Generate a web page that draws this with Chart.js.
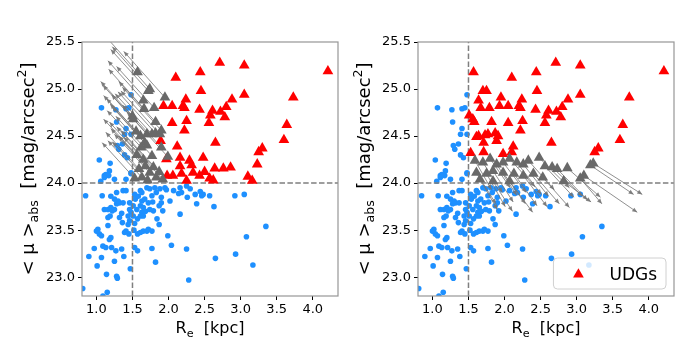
<!DOCTYPE html>
<html><head><meta charset="utf-8">
<script src="https://cdn.jsdelivr.net/npm/chart.js@4.4.1/dist/chart.umd.min.js"></script>
<style>
html,body{margin:0;padding:0;background:#fff;width:700px;height:350px;overflow:hidden;}
canvas{position:absolute;top:0;}
#c1{left:0}
#c2{left:336px}
</style></head><body>
<canvas id="c1" width="350" height="350"></canvas>
<canvas id="c2" width="350" height="350"></canvas>
<script>
// ---- tick labels / ranges ----
const xTickValues = [1.0, 1.5, 2.0, 2.5, 3.0, 3.5, 4.0];
const yTickValues = [23.0, 23.5, 24.0, 24.5, 25.0, 25.5];
const xLimits = [0.8, 4.35];
const yLimits = [22.8, 25.5];
const refRe = 1.5;
const refMu = 24.0;

// ---- titles (rich text parts) ----
const xTitleParts = [["R", ""], ["e", "sub"], ["  [kpc]", ""]];
const yTitleParts = [["< \u03bc >", ""], ["abs", "sub"], ["  [mag/arcsec", ""], ["2", "sup"], ["]", ""]];
const legendLabel = "UDGs";

// ---- non-UDG galaxies (blue) ----
const blueX = [0.85,1.08,1.06,1.11,1.17,1.18,1.25,1.41,1.48,1.28,1.20,1.37,1.41,1.32,1.46,1.53,1.61,1.63,1.70,1.74,
1.81,1.88,1.95,1.97,1.83,1.77,1.90,2.02,2.14,2.18,2.16,2.25,2.30,2.37,2.44,2.46,2.48,2.39,2.57,2.63,
2.92,3.05,2.16,1.92,1.90,1.87,1.79,1.72,1.74,1.63,1.61,1.65,1.63,1.61,1.65,1.57,1.46,1.48,1.51,1.51,
1.44,1.46,1.44,1.32,1.36,1.41,1.45,1.39,1.11,1.16,1.20,1.22,1.25,1.28,1.25,1.30,1.37,1.19,1.16,1.16,
1.02,1.04,1.00,1.07,1.20,1.18,1.65,1.70,1.72,1.77,1.61,1.57,1.87,1.99,2.04,2.25,1.77,1.53,1.57,0.97,
1.09,1.13,1.21,1.27,1.35,1.38,0.895,1.07,1.25,1.01,1.14,1.28,1.29,1.47,1.82,2.65,2.93,3.08,3.17,3.35,
2.28,0.81,1.15,1.09,1.48,1.07,1.27,1.41,1.45,1.28,1.41,1.48,1.39,1.29,1.36,1.31,1.39,1.43,1.04,1.19,
1.13,1.11,1.48,1.54,1.58,1.67,1.56,1.68,1.53,1.78,2.07,2.26,1.84,1.52,1.35];
const blueY = [23.865,23.865,24.02,24.08,24.08,24.13,24.04,24.04,24.10,23.90,23.86,23.92,23.92,23.79,23.79,23.88,23.92,23.90,23.95,23.94,
23.95,23.94,23.95,23.93,23.90,23.865,23.85,23.81,23.89,23.90,23.95,23.97,23.94,23.88,23.91,23.865,23.88,23.78,23.865,23.75,
23.865,23.88,23.67,23.705,23.79,23.76,23.705,23.79,23.72,23.81,23.76,23.74,23.69,23.65,23.65,23.62,23.72,23.69,23.76,23.65,
23.65,23.60,23.56,23.635,23.58,23.49,23.46,23.475,23.72,23.72,23.74,23.705,23.72,23.78,23.83,23.81,23.79,23.65,23.635,23.55,
23.51,23.46,23.49,23.44,23.42,23.40,23.49,23.49,23.51,23.49,23.475,23.46,23.56,23.44,23.34,23.30,23.305,23.315,23.28,23.305,
23.33,23.315,23.315,23.28,23.30,23.22,23.22,23.21,23.17,23.12,23.03,23.01,22.99,23.09,23.16,23.20,23.245,23.43,23.13,23.54,
22.97,22.88,22.84,22.80,24.94,24.80,24.78,24.79,24.80,24.65,24.58,24.52,24.52,24.40,24.415,24.36,24.30,24.27,24.245,24.21,
24.09,24.06,24.11,23.83,23.86,23.83,23.72,23.70,23.57,23.80,23.92,23.85,23.62,23.50,23.68];

// ---- UDGs shown red in both panels ----
const udgX = [2.71,3.05,4.21,2.44,2.10,2.45,3.05,3.73,2.88,2.24,2.20,2.22,2.05,1.93,2.43,2.80,2.72,2.61,2.58,2.78,
2.25,2.05,2.56,2.22,3.64,1.89,2.12,2.65,3.60,3.30,3.25];
const udgY = [25.28,25.25,25.19,25.18,25.12,24.98,24.94,24.91,24.89,24.89,24.82,24.80,24.82,24.82,24.78,24.81,24.76,24.77,24.72,24.70,
24.66,24.64,24.64,24.56,24.62,24.45,24.39,24.43,24.46,24.37,24.33];

// ---- UDGs red only in the left panel ----
const udgLeftX = [2.16,2.48,2.29,3.23,1.97,2.64,2.76,2.86,2.16,2.32,2.50,2.34,2.18,2.06,1.98,2.43,2.57,3.10,3.16,2.25,2.62];
const udgLeftY = [24.27,24.27,24.24,24.20,24.255,24.156,24.156,24.167,24.18,24.19,24.12,24.11,24.10,24.08,24.08,24.08,24.05,24.07,24.025,24.025,24.03];

// ---- UDGs red only in the right panel ----
const udgRightX = [1.57,1.70,1.75,1.95,1.64,1.67,1.79,1.51,1.56,1.58,1.82,1.61,1.64,1.73,1.77,1.87,1.91,1.71,1.53,1.71,1.98,2.10];
const udgRightY = [25.18,24.98,24.98,24.91,24.88,24.80,24.80,24.72,24.68,24.65,24.65,24.49,24.50,24.51,24.52,24.53,24.50,24.43,24.32,24.33,24.31,24.33];

// ---- left panel: shifted galaxies (grey) and arrow tips ----
const leftMovedX = [1.57,1.72,1.74,1.95,1.65,1.66,1.80,1.50,1.51,1.82,1.61,1.70,1.77,1.82,1.88,1.90,1.67,1.99,1.70,1.77,
1.68,1.74,1.63,1.83,1.90,1.56,1.53,1.59,1.65,1.71,1.79,1.87,1.92,1.62,1.55];
const leftMovedY = [25.18,24.98,25.00,24.91,24.88,24.79,24.80,24.71,24.68,24.65,24.50,24.52,24.52,24.53,24.52,24.56,24.43,24.28,24.40,24.29,
24.18,24.11,24.06,24.06,24.38,24.30,24.05,24.15,24.25,24.03,24.17,24.12,24.04,24.38,24.55];
const leftTipX = [1.08,1.20,1.22,1.38,1.16,1.17,1.28,1.06,1.09,1.31,1.14,1.21,1.26,1.30,1.34,1.36,1.19,1.42,1.22,1.27,
1.20,1.25,1.16,1.31,1.36,1.10,1.08,1.13,1.18,1.22,1.28,1.34,1.38,1.15,1.10];
const leftTipY = [25.60,25.42,25.45,25.40,25.30,25.21,25.24,25.08,25.04,25.08,24.90,24.94,24.95,24.97,24.98,25.02,24.84,24.76,24.81,24.71,
24.58,24.52,24.45,24.50,24.83,24.68,24.43,24.54,24.65,24.44,24.60,24.56,24.49,24.77,24.93];

// ---- right panel: shifted galaxies (grey) and arrow tips ----
const rightMovedX = [1.59,1.70,1.80,1.89,1.98,2.07,2.17,2.26,2.33,2.48,2.56,2.66,2.73,2.87,1.61,1.75,1.84,1.98,2.13,2.26,
2.40,2.53,1.66,1.84,2.07,3.23,3.19,3.10,3.05,2.82];
const rightMovedY = [24.24,24.22,24.26,24.20,24.22,24.26,24.22,24.20,24.24,24.27,24.18,24.17,24.15,24.16,24.11,24.10,24.13,24.11,24.10,24.08,
24.10,24.06,24.04,24.02,24.02,24.21,24.19,24.08,24.05,24.02];
const rightTipX = [1.82,1.97,2.08,2.17,2.30,2.42,2.51,2.61,2.69,2.90,2.96,3.08,3.15,3.33,1.88,2.01,2.12,2.29,2.45,2.59,
2.76,2.90,1.90,2.11,2.39,3.91,3.79,3.84,3.35,3.20];
const rightTipY = [23.93,23.90,23.95,23.87,23.90,23.96,23.88,23.86,23.93,23.95,23.85,23.86,23.82,23.85,23.78,23.75,23.80,23.78,23.76,23.75,
23.78,23.74,23.72,23.70,23.69,23.88,23.88,23.69,23.78,23.80];

// ---- helpers ----
function pts(xs, ys) { return xs.map((x, i) => ({x: x, y: ys[i]})); }
function arrowPts(x0, y0, x1, y1) {
  const out = [];
  x0.forEach((x, i) => { out.push({x: x, y: y0[i]}, {x: x1[i], y: y1[i]}, {x: null, y: null}); });
  return out;
}

const FONT = "'DejaVu Sans', 'Liberation Sans', sans-serif";
Chart.defaults.font.family = FONT;

function richDraw(ctx, parts, size) {
  const items = parts.map(p => {
    const s = p[1] ? size * 0.7 : size;
    ctx.font = s + "px " + FONT;
    return {t: p[0], s: s, w: ctx.measureText(p[0]).width, dy: p[1] === "sub" ? size * 0.22 : (p[1] === "sup" ? -size * 0.42 : 0)};
  });
  const total = items.reduce((a, b) => a + b.w, 0);
  let x = -total / 2;
  items.forEach(it => {
    ctx.font = it.s + "px " + FONT;
    ctx.fillText(it.t, x, it.dy);
    x += it.w;
  });
}

const decor = {
  id: 'decor',
  afterDatasetDraw(chart, args) {
    const ds = chart.data.datasets[args.index];
    if (!ds.isArrow) return;
    const p = args.meta.data;
    const ctx = chart.ctx, a = chart.chartArea;
    ctx.save();
    ctx.beginPath(); ctx.rect(a.left, a.top, a.right - a.left, a.bottom - a.top); ctx.clip();
    ctx.fillStyle = ds.borderColor;
    for (let i = 0; i + 1 < p.length; i += 3) {
      const p0 = p[i], p1 = p[i + 1];
      const ang = Math.atan2(p1.y - p0.y, p1.x - p0.x);
      const L = 5, W = 2.2, c = Math.cos(ang), s = Math.sin(ang);
      ctx.beginPath();
      ctx.moveTo(p1.x, p1.y);
      ctx.lineTo(p1.x - L * c + W * s, p1.y - L * s - W * c);
      ctx.lineTo(p1.x - L * c - W * s, p1.y - L * s + W * c);
      ctx.closePath();
      ctx.fill();
    }
    ctx.restore();
  },
  afterDraw(chart, args, opts) {
    const ctx = chart.ctx, a = chart.chartArea;
    ctx.save();
    // frame
    ctx.strokeStyle = '#969696';
    ctx.lineWidth = 1.2;
    ctx.strokeRect(a.left, a.top, a.right - a.left, a.bottom - a.top);
    // titles
    ctx.fillStyle = '#000';
    ctx.textBaseline = 'alphabetic';
    ctx.textAlign = 'left';
    ctx.save();
    ctx.translate((a.left + a.right) / 2, a.bottom + 37);
    richDraw(ctx, xTitleParts, 16);
    ctx.restore();
    ctx.save();
    ctx.translate(a.left - 48, (a.top + a.bottom) / 2);
    ctx.rotate(-Math.PI / 2);
    richDraw(ctx, yTitleParts, 18);
    ctx.restore();
    // legend
    if (opts.legend) {
      const ds = chart.data.datasets.find(d => d.label === legendLabel);
      ctx.font = "17px " + FONT;
      const tw = ctx.measureText(ds.label).width;
      const w = tw + 65, h = 31;
      const x = a.right - 8 - w, y = a.bottom - 7 - h;
      ctx.beginPath();
      ctx.roundRect(x, y, w, h, 4);
      ctx.fillStyle = 'rgba(255,255,255,0.8)';
      ctx.fill();
      ctx.strokeStyle = '#d0d0d0';
      ctx.lineWidth = 1;
      ctx.stroke();
      const cx = x + 25, cy = y + h / 2 + 1, r = 6.2;
      ctx.beginPath();
      ctx.moveTo(cx, cy - r);
      ctx.lineTo(cx + r * Math.sin(2 * Math.PI / 3), cy - r * Math.cos(2 * Math.PI / 3));
      ctx.lineTo(cx + r * Math.sin(4 * Math.PI / 3), cy - r * Math.cos(4 * Math.PI / 3));
      ctx.closePath();
      ctx.fillStyle = ds.pointBackgroundColor;
      ctx.fill();
      ctx.fillStyle = '#000';
      ctx.fillText(ds.label, x + 56, y + 22);
    }
    ctx.restore();
  }
};

function makeChart(id, redX, redY, greyX, greyY, tipX, tipY, showLegend) {
  const datasets = [
    {label: 'shifted', data: pts(greyX, greyY), pointStyle: 'triangle', pointRadius: 6.2,
     pointBackgroundColor: '#696969', pointBorderWidth: 0, clip: 0},
    {label: legendLabel, data: pts(redX, redY), pointStyle: 'triangle', pointRadius: 6.2,
     pointBackgroundColor: '#ff0000', pointBorderWidth: 0, clip: 0},
    {label: 'Re limit', data: [{x: refRe, y: yLimits[0]}, {x: refRe, y: yLimits[1]}], showLine: true,
     borderColor: '#7f7f7f', borderWidth: 1.5, borderDash: [5.5, 2.4], pointRadius: 0, clip: 0},
    {label: 'mu limit', data: [{x: xLimits[0], y: refMu}, {x: xLimits[1], y: refMu}], showLine: true,
     borderColor: '#7f7f7f', borderWidth: 1.5, borderDash: [5.5, 2.4], pointRadius: 0, clip: 0},
    {label: 'arrows', data: arrowPts(greyX, greyY, tipX, tipY), showLine: true, spanGaps: false, isArrow: true,
     borderColor: 'rgba(118,118,118,0.9)', borderWidth: 0.9, pointRadius: 0, clip: 0},
    {label: 'galaxies', data: pts(blueX, blueY), pointStyle: 'circle', pointRadius: 2.8,
     pointBackgroundColor: '#1e90ff', pointBorderWidth: 0, clip: 0}
  ];
  const tickFont = {family: FONT, size: 13};
  return new Chart(document.getElementById(id), {
    type: 'scatter',
    data: {datasets: datasets},
    plugins: [decor],
    options: {
      responsive: false, animation: false, devicePixelRatio: 1, events: [],
      layout: {padding: {top: 42, right: 12, bottom: 0, left: 0}},
      plugins: {legend: {display: false}, tooltip: {enabled: false}, decor: {legend: showLegend}},
      scales: {
        x: {type: 'linear', min: xLimits[0], max: xLimits[1],
            afterBuildTicks: s => { s.ticks = xTickValues.map(v => ({value: v})); },
            afterFit: s => { s.height = 54; },
            ticks: {callback: v => Number(v).toFixed(1), font: tickFont, color: '#000', padding: 2, maxRotation: 0, autoSkip: false},
            grid: {display: true, drawOnChartArea: false, drawTicks: true, tickLength: 4, tickColor: '#000', tickWidth: 1},
            border: {display: false}},
        y: {type: 'linear', min: yLimits[0], max: yLimits[1],
            afterBuildTicks: s => { s.ticks = yTickValues.map(v => ({value: v})); },
            afterFit: s => { s.width = 82; },
            ticks: {callback: v => Number(v).toFixed(1), font: tickFont, color: '#000', padding: 3, autoSkip: false},
            grid: {display: true, drawOnChartArea: false, drawTicks: true, tickLength: 4, tickColor: '#000', tickWidth: 1},
            border: {display: false}}
      }
    }
  });
}

makeChart('c1', udgX.concat(udgLeftX), udgY.concat(udgLeftY), leftMovedX, leftMovedY, leftTipX, leftTipY, false);
makeChart('c2', udgX.concat(udgRightX), udgY.concat(udgRightY), rightMovedX, rightMovedY, rightTipX, rightTipY, true);
</script>
</body></html>
